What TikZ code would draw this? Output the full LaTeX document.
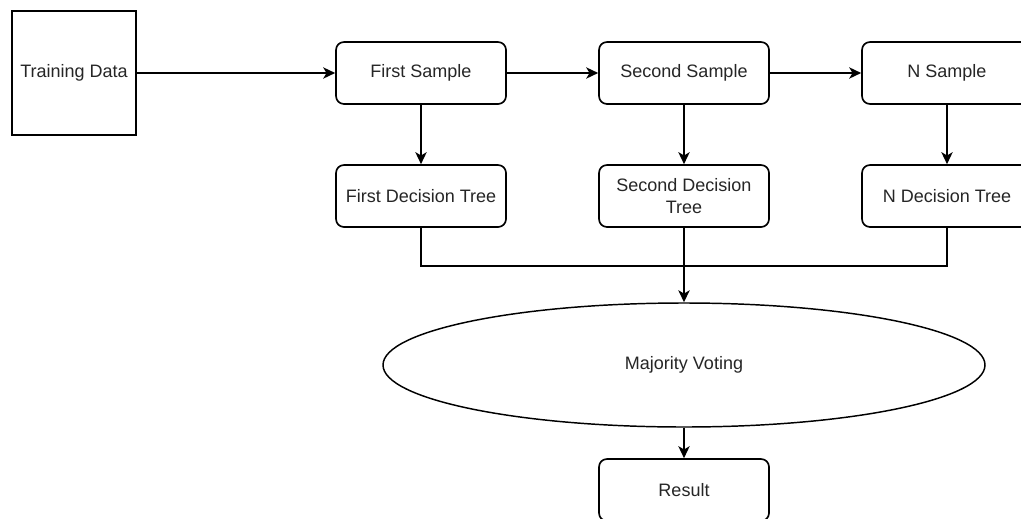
\documentclass[tikz,border=0pt]{standalone}
\usepackage{fontspec}
\setmainfont{Liberation Sans}
\usetikzlibrary{shapes.geometric,arrows.meta}
\begin{document}
\begin{tikzpicture}[x=0.75pt,y=-0.75pt,
  every node/.style={font=\fontsize{13.5pt}{16pt}\selectfont, text=black!85, align=center},
  box/.style={draw, line width=1.25pt, rectangle, rounded corners=6pt, minimum width=127.5pt, minimum height=46.5pt, inner sep=2pt},
  sqbox/.style={draw, line width=1.25pt, rectangle, minimum width=93pt, minimum height=93pt, inner sep=0pt},
  oval/.style={draw, line width=1.1pt, ellipse, minimum width=451.5pt, minimum height=93pt, inner sep=0pt},
  conn/.style={line width=1.25pt, -{Stealth[length=9pt,width=8.5pt,inset=2.5pt]}},
  wire/.style={line width=1.25pt}]
\clip (0,0) rectangle (1021,518);
\fill[white] (0,0) rectangle (1021,518);
\node[sqbox] (train) at (74,73) {Training Data};
\node[box] (s1) at (421,73) {First Sample};
\node[box] (s2) at (684,73) {Second Sample};
\node[box] (sN) at (947,73) {N Sample};
\node[box] (t1) at (421,196) {First Decision Tree};
\node[box] (t2) at (684,196) {Second Decision\\Tree};
\node[box] (tN) at (947,196) {N Decision Tree};
\node[oval] (mv) at (684,365) {Majority Voting};
\node[box] (res) at (684,490) {Result};
\coordinate (j) at (684,266);
\draw[conn] (train.east) -- (s1.west);
\draw[conn] (s1.east) -- (s2.west);
\draw[conn] (s2.east) -- (sN.west);
\draw[conn] (s1) -- (t1);
\draw[conn] (s2) -- (t2);
\draw[conn] (sN) -- (tN);
\draw[wire] (t1.south) |- (j);
\draw[wire] (tN.south) |- (j);
\draw[conn] (t2.south) -- (mv.north);
\draw[conn] (mv.south) -- (res.north);
\end{tikzpicture}
\end{document}
